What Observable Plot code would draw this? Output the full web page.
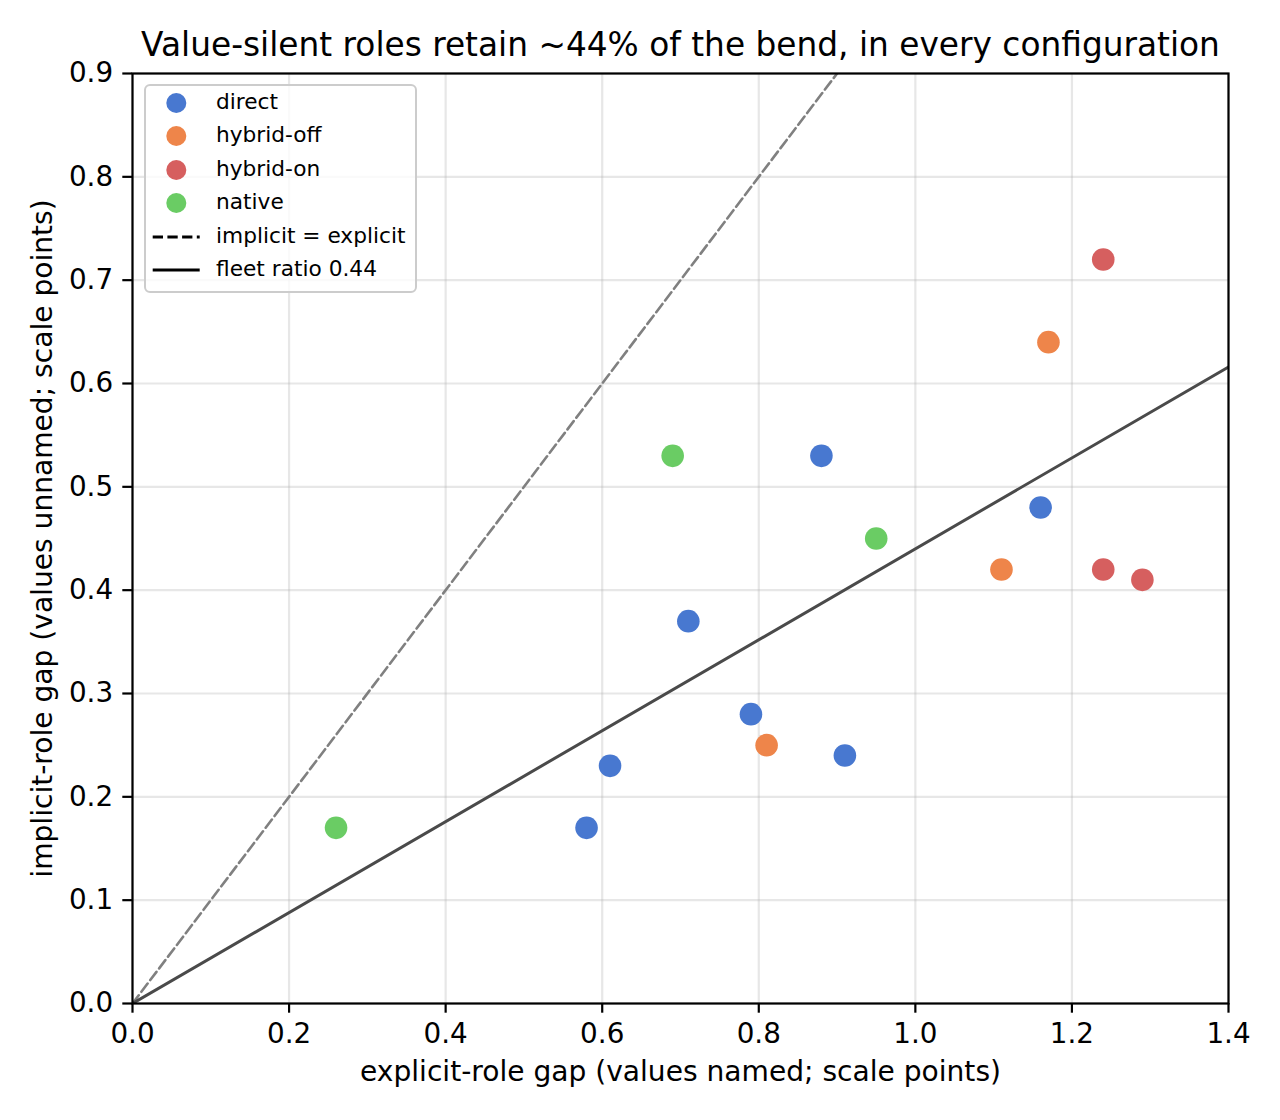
<!DOCTYPE html>
<html><head><meta charset="utf-8">
<script src="https://cdn.jsdelivr.net/npm/d3@7"></script>
<script src="https://cdn.jsdelivr.net/npm/@observablehq/plot@0.6"></script>
<style>
body{margin:0;background:#fff;font-family:"DejaVu Sans",sans-serif;}
#wrap{position:relative;width:1280px;height:1120px;}
#wrap svg.plot{position:absolute;left:0;top:0;}
#legend{position:absolute;left:144px;top:84px;width:269px;height:205px;border:2px solid #cccccc;border-radius:6px;background:rgba(255,255,255,0.8);}
.row{position:absolute;left:0;height:34px;width:269px;}
.row svg{position:absolute;left:0;top:0;}
.row span{position:absolute;left:70px;top:-1px;line-height:34px;font-size:21.7px;color:#000;white-space:nowrap;}
</style></head><body><div id="wrap"></div>
<script>
const title = "Value-silent roles retain ~44% of the bend, in every configuration";
const xLabel = "explicit-role gap (values named; scale points)";
const yLabel = "implicit-role gap (values unnamed; scale points)";
const groups = ["direct", "hybrid-off", "hybrid-on", "native"];
const groupColors = ["#4878d0", "#ee854a", "#d65f5f", "#6acc64"];
const directX = [0.58, 0.61, 0.71, 0.79, 0.88, 0.91, 1.16];
const directY = [0.17, 0.23, 0.37, 0.28, 0.53, 0.24, 0.48];
const hybridOffX = [0.81, 1.11, 1.17];
const hybridOffY = [0.25, 0.42, 0.64];
const hybridOnX = [1.24, 1.24, 1.29];
const hybridOnY = [0.72, 0.42, 0.41];
const nativeX = [0.26, 0.69, 0.95];
const nativeY = [0.17, 0.53, 0.45];
const fleetRatio = 0.44;
const xTicks = [0, 0.2, 0.4, 0.6, 0.8, 1.0, 1.2, 1.4];
const yTicks = [0, 0.1, 0.2, 0.3, 0.4, 0.5, 0.6, 0.7, 0.8, 0.9];
const refX = [0, 1.4];
const lineLabels = ["implicit = explicit", "fleet ratio 0.44"];

const seriesX = [directX, hybridOffX, hybridOnX, nativeX];
const seriesY = [directY, hybridOffY, hybridOnY, nativeY];
const points = [];
groups.forEach((g, i) => seriesX[i].forEach((x, j) => points.push({group: g, x, y: seriesY[i][j]})));
const identityLine = refX.map(x => ({x, y: x}));
const fleetLine = refX.map(x => ({x, y: fleetRatio * x}));
const fmt = d3.format(".1f");
const FS = 27.8;

const chart = Plot.plot({
  width: 1280, height: 1120,
  marginLeft: 132, marginRight: 52, marginTop: 73, marginBottom: 117,
  style: {fontFamily: "DejaVu Sans", fontSize: FS + "px", background: "white", color: "black"},
  x: {domain: [0, 1.4]},
  y: {domain: [0, 0.9]},
  color: {domain: groups, range: groupColors},
  marks: [
    Plot.gridX(xTicks, {stroke: "#b0b0b0", strokeOpacity: 0.3, strokeWidth: 2.2}),
    Plot.gridY(yTicks, {stroke: "#b0b0b0", strokeOpacity: 0.3, strokeWidth: 2.2}),
    Plot.dot(points, {x: "x", y: "y", fill: "group", r: 11.3}),
    Plot.line(identityLine, {x: "x", y: "y", stroke: "#808080", strokeWidth: 2.6, strokeDasharray: "10.3,4.4", clip: true}),
    Plot.line(fleetLine, {x: "x", y: "y", stroke: "#4a4a4a", strokeWidth: 3, clip: true}),
    Plot.frame({stroke: "black", strokeWidth: 2.2}),
    Plot.axisX(xTicks, {tickFormat: fmt, tickSize: 9.7, tickPadding: 9.7, strokeWidth: 2.2, fontSize: FS, label: null}),
    Plot.axisY(yTicks, {tickFormat: fmt, tickSize: 9.7, tickPadding: 9.7, strokeWidth: 2.2, fontSize: FS, label: null}),
    Plot.text([xLabel], {text: d => d, frameAnchor: "bottom", dy: 68, textAnchor: "middle", lineAnchor: "middle", fontSize: 28.1}),
    Plot.text([yLabel], {text: d => d, frameAnchor: "left", dx: -90, rotate: -90, textAnchor: "middle", lineAnchor: "middle", fontSize: 28.1}),
    Plot.text([title], {text: d => d, frameAnchor: "top", dy: -28, textAnchor: "middle", lineAnchor: "middle", fontSize: 32.8})
  ]
});
chart.classList.add("plot");
const wrap = document.getElementById("wrap");
wrap.appendChild(chart);

// legend
const legend = d3.select(wrap).append("div").attr("id", "legend");
const entries = groups.map((g, i) => ({label: g, kind: "dot", color: groupColors[i]}))
  .concat([{label: lineLabels[0], kind: "dash"}, {label: lineLabels[1], kind: "solid"}]);
entries.forEach((e, i) => {
  const row = legend.append("div").attr("class", "row").style("top", (0 + 33.4 * i) + "px");
  const s = row.append("svg").attr("width", 64).attr("height", 34);
  if (e.kind === "dot") s.append("circle").attr("cx", 30.3).attr("cy", 17).attr("r", 10).attr("fill", e.color);
  else s.append("line").attr("x1", 6.7).attr("x2", 53.7).attr("y1", 17).attr("y2", 17)
    .attr("stroke", "black").attr("stroke-width", 2.8)
    .attr("stroke-dasharray", e.kind === "dash" ? "10.3,4.4" : null);
  row.append("span").text(e.label);
});
</script></body></html>
